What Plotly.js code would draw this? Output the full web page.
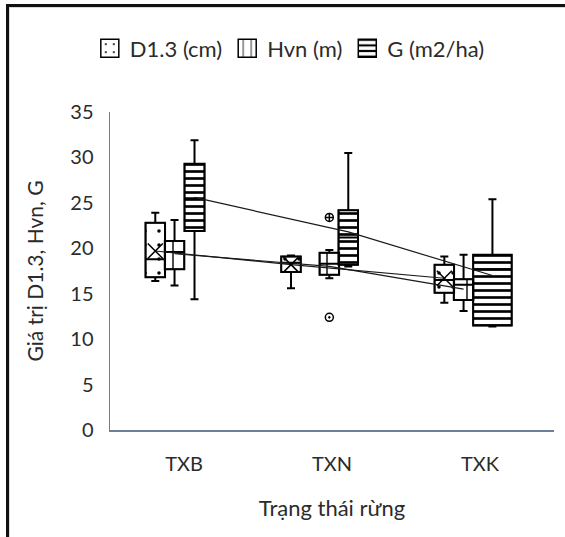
<!DOCTYPE html>
<html>
<head>
<meta charset="utf-8">
<script src="https://cdn.plot.ly/plotly-3.0.1.min.js"></script>
<style>
  html, body { margin:0; padding:0; background:#fff; }
  #wrap { position:relative; width:565px; height:537px; overflow:hidden; }
  #chart { position:absolute; left:0; top:0; width:565px; height:537px; }
  #frame { position:absolute; left:6px; top:4px; width:700px; height:700px;
           border-left:3px solid #111; border-top:3px solid #111; pointer-events:none; }
  #frame2 { position:absolute; left:9px; top:7px; width:700px; height:700px;
           border-left:1px solid #d5dbe3; border-top:1px solid #d5dbe3; pointer-events:none; }
</style>
</head>
<body>
<div id="wrap">
  <div id="chart"></div>
  <div id="frame"></div>
  <div id="frame2"></div>
</div>
<script>
// ---------- data ----------
const categories = ['TXB', 'TXN', 'TXK'];
const seriesNames = ['D1.3 (cm)', 'Hvn (m)', 'G (m2/ha)'];

const D_lower  = [16.4, 15.6, 14.0];
const D_q1     = [16.8, 17.4, 15.1];
const D_median = [18.8, 18.4, 16.5];
const D_q3     = [22.8, 19.1, 18.2];
const D_upper  = [23.9, 19.2, 19.1];
const D_mean   = [19.7, 18.2, 16.7];

const H_lower  = [15.9, 16.7, 13.1];
const H_q1     = [17.7, 17.1, 14.3];
const H_median = [19.6, 18.3, 16.0];
const H_q3     = [20.8, 19.5, 16.6];
const H_upper  = [23.1, 19.8, 19.3];
const H_mean   = [19.4, 18.0, 15.5];

const G_lower  = [14.4, 18.0, 11.4];
const G_q1     = [21.9, 18.2, 11.5];
const G_median = [25.5, 21.2, 17.7];
const G_q3     = [29.3, 24.2, 19.3];
const G_upper  = [31.9, 30.5, 25.4];
const G_mean   = [25.6, 21.8, 17.0];

const H_outlierCat = ['TXN', 'TXN'];
const H_outliers   = [23.4, 12.4];

// ---------- placement (not data) ----------
const PX = 148; // px per category unit
const place = {
  D: { off: [-0.194, -0.277, -0.241], w: [19.5, 19.5, 19.5] },
  H: { off: [-0.064, -0.018, -0.111], w: [19.5, 19.5, 19.5] },
  G: { off: [ 0.071,  0.110,  0.084], w: [20, 19.5, 38.5] }
};
const patterns = {
  D: { shape: '.', size: 14, solidity: 0.05 },
  H: { shape: '|', size: 14, solidity: 0.1 },
  G: { shape: '-', size: 7,  solidity: 0.38 }
};

const stats = {
  D: { lo: D_lower, q1: D_q1, md: D_median, q3: D_q3, hi: D_upper, mean: D_mean },
  H: { lo: H_lower, q1: H_q1, md: H_median, q3: H_q3, hi: H_upper, mean: H_mean },
  G: { lo: G_lower, q1: G_q1, md: G_median, q3: G_q3, hi: G_upper, mean: G_mean }
};
const keys = ['D', 'H', 'G'];
const xOf = (k, i) => i + place[k].off[i];

const traces = [];

// patterned box bodies (bars) -> legend entries
keys.forEach((k, si) => {
  const s = stats[k];
  traces.push({
    type: 'bar',
    name: seriesNames[si],
    x: categories.map((c, i) => xOf(k, i)),
    base: s.q1,
    y: s.q3.map((v, i) => v - s.q1[i]),
    width: place[k].w.map(w => w / PX),
    marker: {
      color: '#ffffff',
      line: { color: '#000', width: 1.5 },
      pattern: Object.assign({ fgcolor: '#000', bgcolor: '#ffffff', fillmode: 'overlay', fgopacity: 1 }, patterns[k])
    },
    hoverinfo: 'skip'
  });
});

// box outlines, medians, whiskers
keys.forEach((k) => {
  const s = stats[k];
  categories.forEach((c, i) => {
    const w = place[k].w[i];
    traces.push({
      type: 'box',
      x: [xOf(k, i)],
      q1: [s.q1[i]], median: [s.md[i]], q3: [s.q3[i]],
      lowerfence: [s.lo[i]], upperfence: [s.hi[i]],
      width: w / PX,
      whiskerwidth: 8 / w,
      boxpoints: false,
      fillcolor: 'rgba(0,0,0,0)',
      line: { color: '#000', width: 2 },
      showlegend: false,
      hoverinfo: 'skip'
    });
  });
});

// mean lines
keys.forEach((k) => {
  traces.push({
    type: 'scatter', mode: 'lines',
    x: categories.map((c, i) => xOf(k, i)),
    y: stats[k].mean,
    line: { color: '#1a1a1a', width: 1.2 },
    showlegend: false, hoverinfo: 'skip'
  });
});

// mean markers for D1.3
traces.push({
  type: 'scatter', mode: 'markers',
  x: categories.map((c, i) => xOf('D', i)),
  y: D_mean,
  marker: { symbol: 'x-thin-open', size: 15, color: '#000', line: { color: '#000', width: 1.5 } },
  showlegend: false, hoverinfo: 'skip'
});

// outliers (Hvn, TXN)
traces.push({
  type: 'scatter', mode: 'markers',
  x: H_outlierCat.map(c => xOf('H', categories.indexOf(c))),
  y: H_outliers,
  marker: { symbol: ['circle-cross-open', 'circle-open-dot'], size: 8, color: '#000',
            line: { color: '#000', width: 1.5 } },
  showlegend: false, hoverinfo: 'skip'
});

const axisColor = '#6E7F99';
const txt = '#2b2b2b';
const layout = {
  width: 565, height: 537,
  margin: { l: 110, r: 11, t: 112, b: 107 },
  paper_bgcolor: '#fff', plot_bgcolor: '#fff',
  font: { family: 'Lato, "Liberation Sans", sans-serif', size: 20, color: txt },
  barmode: 'overlay', boxmode: 'overlay',
  showlegend: true,
  legend: {
    orientation: 'h', x: 0.405, xanchor: 'center', y: 1.2, yanchor: 'middle',
    font: { size: 22, color: txt }, itemwidth: 30, bgcolor: 'rgba(0,0,0,0)'
  },
  xaxis: {
    type: 'linear', range: [-0.5, 2.5], tickvals: [0, 1, 2], ticktext: categories,
    showline: true, linecolor: axisColor, linewidth: 1.5, showgrid: false, zeroline: false,
    ticks: 'outside', ticklen: 15, tickcolor: 'rgba(0,0,0,0)',
    tickfont: { size: 20, color: txt },
    title: { text: 'Trạng thái rừng', standoff: 27, font: { size: 22, color: txt } },
    fixedrange: true
  },
  yaxis: {
    range: [0, 35], tick0: 0, dtick: 5,
    showline: true, linecolor: axisColor, linewidth: 1.5, showgrid: false, zeroline: false,
    ticks: 'outside', ticklen: 11, tickcolor: 'rgba(0,0,0,0)',
    tickfont: { size: 20, color: txt },
    title: { text: 'Giá trị D1.3, Hvn, G', standoff: 21, font: { size: 21, color: txt } },
    fixedrange: true
  }
};

Plotly.newPlot('chart', traces, layout, { displayModeBar: false, staticPlot: true }).then(() => {
  // enlarge legend swatches to match the reference's square keys
  document.querySelectorAll('#chart .legend .legendpoints path').forEach(p => {
    p.setAttribute('d', 'M9,9H-9V-9H9Z');
  });
});
</script>
</body>
</html>
